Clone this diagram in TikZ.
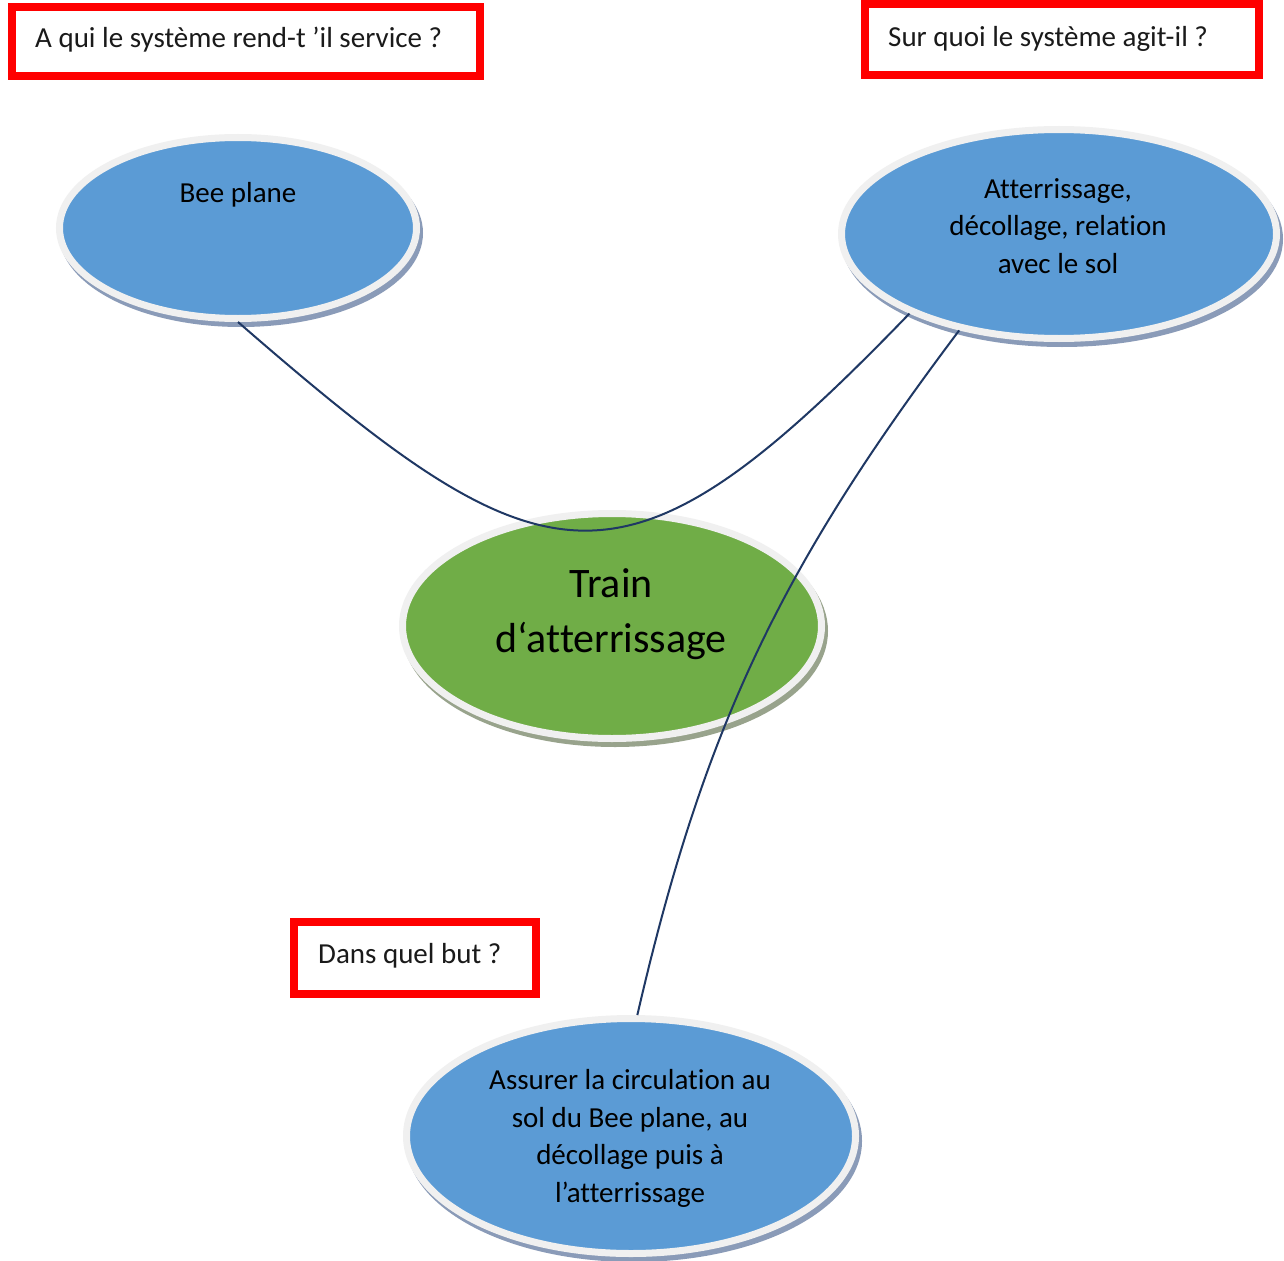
\documentclass[tikz,border=0pt]{standalone}
\usepackage{fontspec}
\setmainfont[Ligatures={NoCommon}]{Carlito}
\usetikzlibrary{shapes.geometric}

\definecolor{qred}{HTML}{FF0000}
\definecolor{qtxt}{HTML}{1A1A1A}
\definecolor{elblue}{HTML}{5B9BD5}
\definecolor{elgreen}{HTML}{70AD47}
\definecolor{elrim}{HTML}{F0F0F0}
\definecolor{shblue}{HTML}{8A9BB8}
\definecolor{shgreen}{HTML}{98A38C}
\definecolor{linkcol}{HTML}{1F3864}

\tikzset{
  qbox/.style={rectangle, draw=qred, line width=8pt, fill=white, inner sep=0pt},
  qtext/.style={font=\fontsize{29}{36}\selectfont, text=qtxt, inner sep=0pt},
  bubble/.style={ellipse, inner sep=0pt, draw=elrim, line width=7pt, fill=#1},
  shadowed/.style={preaction={fill=#1, draw=#1, line width=7pt,
      transform canvas={xshift=3pt, yshift=-5pt}}},
  eltext/.style={font=\fontsize{29}{37.5}\selectfont, align=center, inner sep=0pt},
  bigtext/.style={font=\fontsize{42}{55}\selectfont, align=center, inner sep=0pt},
  link/.style={draw=linkcol, line width=2pt}
}

\begin{document}
\begin{tikzpicture}[x=1pt, y=1pt]
  \useasboundingbox (0,0) rectangle (1284,-1260);
  \fill[white] (0,0) rectangle (1284,-1260);

  % question boxes
  \node[qbox, minimum width=468pt, minimum height=69pt] (q1) at (246,-41.5) {};
  \node[qtext, anchor=base west] (q1t) at (35,-48) {A qui le système rend-t ’il service ?};
  \node[qbox, minimum width=394pt, minimum height=70.5pt] (q2) at (1062,-39.75) {};
  \node[qtext, anchor=base west] (q2t) at (888,-47) {Sur quoi le système agit-il ?};
  \node[qbox, minimum width=242pt, minimum height=72pt] (q3) at (415,-958) {};
  \node[qtext, anchor=base west] (q3t) at (318,-963) {Dans quel but ?};

  % ellipses
  \node[bubble=elblue, shadowed=shblue, minimum width=357pt, minimum height=181pt] (bee) at (238,-228) {};
  \node[bubble=elblue, shadowed=shblue, minimum width=435pt, minimum height=209pt] (atter) at (1059,-234) {};
  \node[bubble=elgreen, shadowed=shgreen, minimum width=419pt, minimum height=225pt] (train) at (612,-626) {};
  \node[bubble=elblue, shadowed=shblue, minimum width=449pt, minimum height=235pt] (goal) at (631,-1136) {};

  % ellipse texts (base anchor = baseline of the last line)
  \node[eltext, anchor=base] (beet) at (238,-203) {Bee plane};
  \node[eltext, anchor=base] (attert) at (1058,-273) {Atterrissage,\\décollage, relation\\avec le sol};
  \node[bigtext, anchor=base] (traint) at (611,-652) {Train\\d‘atterrissage};
  \node[eltext, anchor=base] (goalt) at (630,-1202) {Assurer la circulation au\\sol du Bee plane, au\\décollage puis à\\l’atterrissage};

  % connectors
  \draw[link] (bee.south) to[out=-41, in=226, looseness=1.57] (atter.208);
  \draw[link] (atter.224) to[out=233, in=77] (goal.87);
\end{tikzpicture}
\end{document}
